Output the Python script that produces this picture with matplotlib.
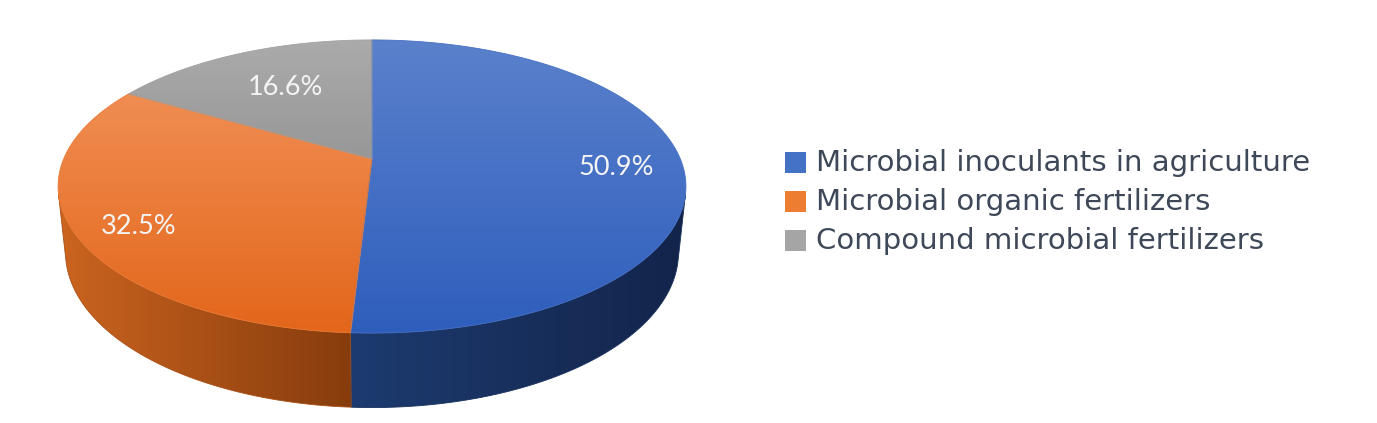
import numpy as np
import matplotlib
matplotlib.use("Agg")
import matplotlib.pyplot as plt
from matplotlib.patches import Polygon, Rectangle
from matplotlib.colors import to_rgb

# --- DATA ---
labels = ["Microbial inoculants in agriculture",
          "Microbial organic fertilizers",
          "Compound microbial fertilizers"]
values = [50.9, 32.5, 16.6]
pct_labels = ["50.9%", "32.5%", "16.6%"]

# --- STYLE ---
legend_colors = ["#4472c4", "#ed7d31", "#a5a5a5"]
top_colors = [("#5b81cc", "#2e5ebc"), ("#f08d52", "#e3661a"), ("#ababab", "#979797")]
side_colors = [("#1d3b70", "#13244a"), ("#cb641f", "#873c0d"), ("#8a8a8a", "#6a6a6a")]
label_r = [0.79, 0.80, 0.62]
label_dy = [5, 10, -2]
FONT = ["Lato", "DejaVu Sans"]
LEGEND_FONT = ["DejaVu Sans"]
LEGEND_WIDTH = 495  # px, longest legend entry in the reference

# 3D view of the pie, in pixels (perspective like Excel's 3-D pie)
CX, CY = 372, 159
F = 1460.0
DIST = 4.735
ELEV = np.radians(27.3)
HEIGHT = 0.242


def project(theta, y=0.0, r=1.0):
    X = r * np.sin(theta)
    Z = r * np.cos(theta)
    d = DIST + Z * np.cos(ELEV) - y * np.sin(ELEV)
    v = y * np.cos(ELEV) + Z * np.sin(ELEV)
    return CX + F * X / d, CY - F * v / d


def gradient_fill(ax, xs, ys, c0, c1, horizontal, z):
    poly = Polygon(np.column_stack([xs, ys]), closed=True,
                   facecolor="none", edgecolor="none", zorder=z)
    ax.add_patch(poly)
    t = np.linspace(0, 1, 256)[:, None]
    grad = np.array(to_rgb(c0)) * (1 - t) + np.array(to_rgb(c1)) * t
    img = grad[None, :, :] if horizontal else grad[:, None, :]
    im = ax.imshow(img, extent=(xs.min(), xs.max(), ys.max(), ys.min()),
                   origin="upper", aspect="auto", interpolation="bilinear", zorder=z)
    im.set_clip_path(poly)
    # soft edge so the clipped border is not jagged
    mid = tuple((np.array(to_rgb(c0)) + np.array(to_rgb(c1))) / 2)
    ax.add_patch(Polygon(np.column_stack([xs, ys]), closed=True, facecolor="none",
                         edgecolor=mid, linewidth=0.6, zorder=z + 0.1))


fig = plt.figure(figsize=(13.77, 4.23), dpi=100)
ax = fig.add_axes([0, 0, 1, 1])

bounds = np.concatenate([[0], np.cumsum(values)]) / sum(values) * 2 * np.pi
vis = np.arccos(-1.0 / (DIST * np.cos(ELEV)))  # visible part of the side wall

# side walls
for i in range(len(values)):
    a, b = max(bounds[i], vis), min(bounds[i + 1], 2 * np.pi - vis)
    if b <= a:
        continue
    th = np.linspace(a, b, 200)
    xt, yt = project(th, 0.0)
    xb, yb = project(th[::-1], -HEIGHT)
    gradient_fill(ax, np.concatenate([xt, xb]), np.concatenate([yt, yb]),
                  side_colors[i][0], side_colors[i][1], True, 2)

# top faces
for i in range(len(values)):
    th = np.linspace(bounds[i], bounds[i + 1], 300)
    xs, ys = project(th, 0.0)
    xs = np.concatenate([[CX], xs])
    ys = np.concatenate([[CY], ys])
    gradient_fill(ax, xs, ys, top_colors[i][0], top_colors[i][1], False, 4)

# data labels
for i in range(len(values)):
    mid = (bounds[i] + bounds[i + 1]) / 2
    lx, ly = project(mid, 0.0, label_r[i])
    ax.text(lx, ly + label_dy[i], pct_labels[i], color="#f4f4f4", fontsize=19.5,
            family=FONT, ha="center", va="center", zorder=6)

# legend
ax.set_xlim(0, 1377)
ax.set_ylim(423, 0)
renderer = fig.canvas.get_renderer()
texts = []
for i, lab in enumerate(labels):
    yc = 163 + i * 39
    ax.add_patch(Rectangle((785, yc - 10.5), 21, 21, facecolor=legend_colors[i],
                           edgecolor="none", zorder=6))
    texts.append(ax.text(816, yc, lab, color="#3e4858", fontsize=18,
                         family=LEGEND_FONT, ha="left", va="center", zorder=6))
w = max(t.get_window_extent(renderer).width for t in texts)
for t in texts:
    t.set_fontsize(18 * LEGEND_WIDTH / w)

ax.axis("off")

fig.savefig("out.png", dpi=100, facecolor="white")
